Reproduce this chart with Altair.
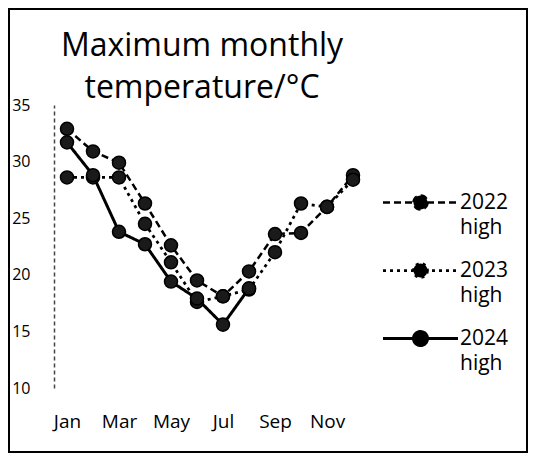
import altair as alt
import pandas as pd

months = ["Jan", "Feb", "Mar", "Apr", "May", "Jun", "Jul", "Aug", "Sep", "Oct", "Nov", "Dec"]
high_2022 = [32.9, 30.9, 29.9, 26.3, 22.6, 19.5, 18.1, 20.3, 23.6, 23.7, 26.0, 28.8]
high_2023 = [28.6, 28.6, 28.6, 24.5, 21.1, 17.6, 18.1, 18.7, 22.0, 26.3, 26.0, 28.4]
high_2024 = [31.7, 28.8, 23.8, 22.7, 19.4, 17.9, 15.6, 18.8]
series_names = ["2022 high", "2023 high", "2024 high"]
month_labels = ["Jan", "Mar", "May", "Jul", "Sep", "Nov"]
y_ticks = [10, 15, 20, 25, 30, 35]

rows = []
for name, vals in zip(series_names, [high_2022, high_2023, high_2024]):
    for m, v in zip(months, vals):
        rows.append({"month": m, "temp": v, "series": name})
df = pd.DataFrame(rows)

FONT = "Open Sans"

x_enc = alt.X("month:O", sort=months,
              scale=alt.Scale(type="point", padding=0.5),
              axis=alt.Axis(values=month_labels, labelAngle=0, domain=False, ticks=False,
                            tickSize=0, labelFontSize=19, labelFontWeight=500,
                            labelPadding=24, title=None,
                            labelColor="black", labelFont=FONT))
y_enc = alt.Y("temp:Q",
              scale=alt.Scale(domain=[10, 35], nice=False, zero=False),
              axis=alt.Axis(values=y_ticks, grid=False, ticks=False, tickSize=0,
                            domainDash=[4, 3], domainColor="#444", domainWidth=1.5,
                            labelFontSize=16, labelFontWeight=500, labelPadding=24,
                            title=None, labelColor="black", labelFont=FONT))

# legend glyph: a line with a marker in the middle
symbol_path = ("M-1.5,0H1.5M0.28,0A0.28,0.28,0,1,1,-0.28,0"
               "A0.28,0.28,0,1,1,0.28,0Z")

lines = alt.Chart(df).mark_line(color="black").encode(
    x=x_enc,
    y=y_enc,
    strokeDash=alt.StrokeDash(
        "series:N",
        scale=alt.Scale(domain=series_names, range=[[7, 4], [3, 4], [1, 0]]),
        legend=alt.Legend(
            title=None, orient="none", legendX=340, legendY=71, padding=0,
            symbolType=symbol_path, symbolSize=2500, symbolStrokeWidth=2.5,
            symbolStrokeColor="black", symbolFillColor="black",
            labelFontSize=21, labelFont=FONT, labelColor="black", labelFontWeight=500,
            labelExpr="split(datum.label, ' ')", labelOffset=13,
            rowPadding=6, labelBaseline="middle",
        ),
    ),
    strokeWidth=alt.StrokeWidth(
        "series:N",
        scale=alt.Scale(domain=series_names, range=[2.5, 3, 3]),
        legend=None,
    ),
)

points = alt.Chart(df).mark_point(shape="circle", filled=True, size=170,
                                  fill="#1a1a1a", stroke="black", strokeWidth=1.5,
                                  opacity=1).encode(
    x=x_enc,
    y=y_enc,
)

frame = alt.Chart(pd.DataFrame({"frame": [0]})).mark_rect(
    fillOpacity=0, stroke="black", strokeWidth=2
).encode(
    x=alt.value(-45), x2=alt.value(473), y=alt.value(-96), y2=alt.value(347)
)

chart = alt.layer(frame, lines, points).properties(
    width=312,
    height=283,
    padding=0,
    background="white",
    title=alt.TitleParams(["Maximum monthly", "temperature/°C"], anchor="middle",
                          frame="group", baseline="alphabetic",
                          fontSize=32, font=FONT, fontWeight="normal", color="black",
                          offset=-122, dx=-8, lineHeight=42),
).configure(
    style={"guide-label": {"lineHeight": 25}}
).configure_view(strokeWidth=0)

chart.save("out.html", embed_options={"renderer": "svg", "actions": False})
